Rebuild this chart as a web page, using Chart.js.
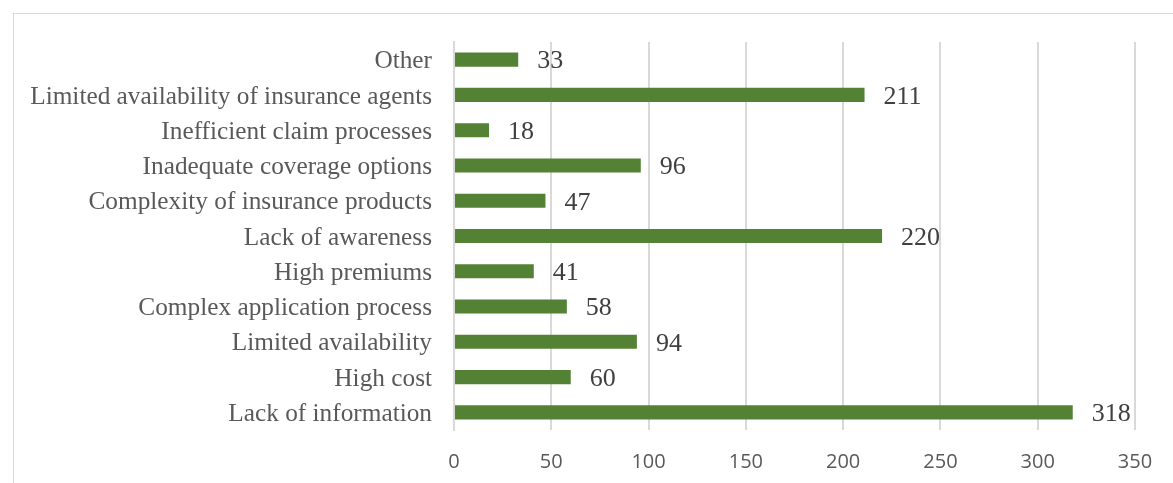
<!DOCTYPE html>
<html>
<head>
<meta charset="utf-8">
<script src="https://cdn.jsdelivr.net/npm/chart.js@4"></script>
<style>
    html, body { margin: 0; padding: 0; background: #fff; }
    #wrap { position: relative; width: 1173px; height: 483px; overflow: hidden; }
    #frame { position: absolute; left: 13px; top: 13px; width: 1180px; height: 500px; border: 1.5px solid #d9d9d9; box-sizing: border-box; }
    canvas { position: absolute; left: 0; top: 0; }
</style>
</head>
<body>
<div id="wrap">
    <div id="frame"></div>
    <canvas id="reasons-chart" width="1173" height="483"></canvas>
</div>
<script>
// Categories top to bottom, as listed on the axis
const reasons = [
    'Other',
    'Limited availability of insurance agents',
    'Inefficient claim processes',
    'Inadequate coverage options',
    'Complexity of insurance products',
    'Lack of awareness',
    'High premiums',
    'Complex application process',
    'Limited availability',
    'High cost',
    'Lack of information'
];
const counts = [33, 211, 18, 96, 47, 220, 41, 58, 94, 60, 318];
const xTicks = [0, 50, 100, 150, 200, 250, 300, 350];

// Writes each bar's count just past its end
const valueLabels = {
    id: 'valueLabels',
    afterDatasetsDraw(chart) {
        const ctx = chart.ctx;
        const meta = chart.getDatasetMeta(0);
        ctx.save();
        ctx.font = '26px "Liberation Serif", "DejaVu Serif", serif';
        ctx.fillStyle = '#404040';
        ctx.textAlign = 'left';
        ctx.textBaseline = 'middle';
        meta.data.forEach((bar, i) => {
            ctx.fillText(String(counts[i]), bar.x + 19, bar.y + 2);
        });
        ctx.restore();
    }
};

new Chart(document.getElementById('reasons-chart').getContext('2d'), {
    type: 'bar',
    data: {
        labels: reasons,
        datasets: [{
            data: counts,
            backgroundColor: '#548235',
            borderWidth: 0,
            categoryPercentage: 1,
            barPercentage: 0.4
        }]
    },
    options: {
        indexAxis: 'y',
        responsive: false,
        animation: false,
        layout: { padding: { top: 42, right: 38, bottom: 0, left: 0 } },
        scales: {
            x: {
                min: 0,
                max: 350,
                afterBuildTicks: scale => { scale.ticks = xTicks.map(v => ({ value: v })); },
                afterFit: scale => { scale.height = 53; },
                grid: { color: '#d9d9d9', lineWidth: 2, drawTicks: false },
                border: { display: false },
                ticks: {
                    padding: 20,
                    color: '#595959',
                    font: { family: '"Open Sans", "Liberation Sans", sans-serif', size: 20 }
                }
            },
            y: {
                afterFit: scale => { scale.width = 454; },
                grid: { display: false, drawTicks: false },
                border: { display: true, color: '#d9d9d9', width: 2 },
                ticks: {
                    padding: 22,
                    labelOffset: 2,
                    color: '#595959',
                    font: { family: '"Liberation Serif", "DejaVu Serif", serif', size: 25.3 }
                }
            }
        },
        plugins: {
            legend: { display: false },
            tooltip: { enabled: false }
        }
    },
    plugins: [valueLabels]
});
</script>
</body>
</html>
